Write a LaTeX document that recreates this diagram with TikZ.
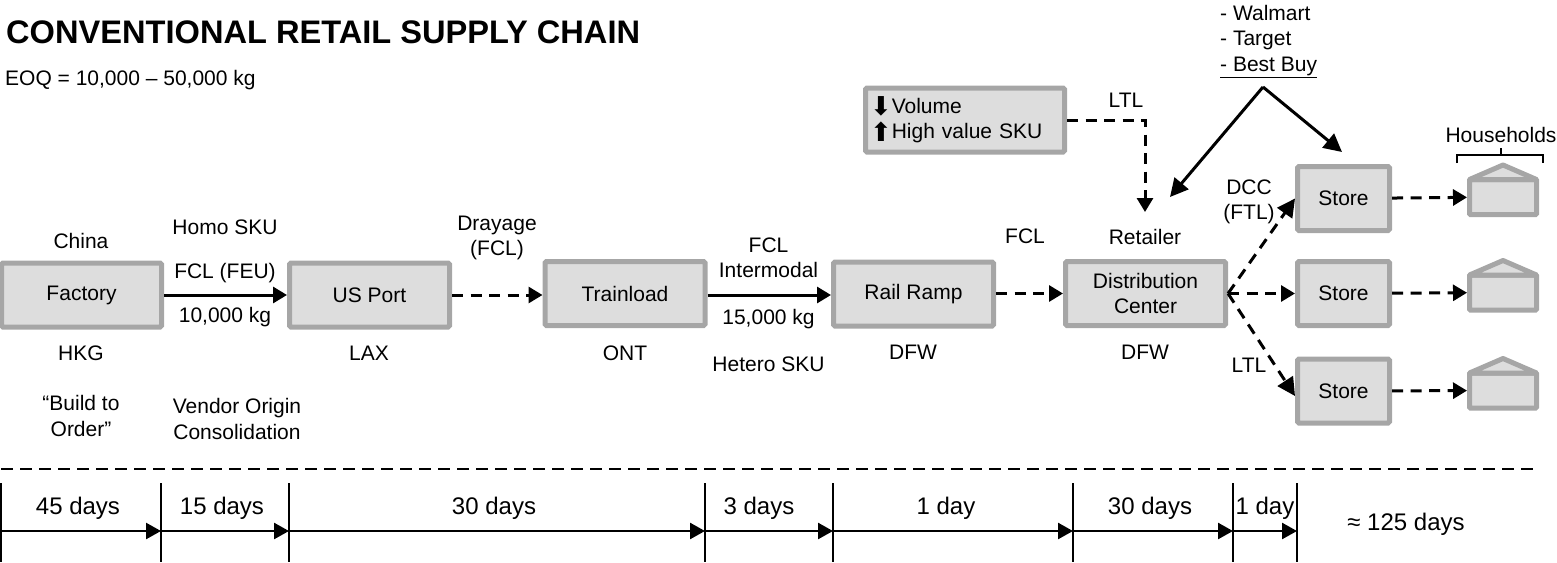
\documentclass[tikz,border=0pt]{standalone}
\usepackage{fontspec}
\setmainfont{Liberation Sans}
\newfontfamily\symfont{DejaVu Sans}
\usetikzlibrary{arrows.meta}
\definecolor{boxfill}{HTML}{DDDDDD}
\definecolor{boxline}{HTML}{A6A6A6}
\newcommand{\updown}[1]{\raisebox{-2.5pt}{\symfont\fontsize{26}{25.5}\selectfont #1}}
\tikzset{
  txt/.style={inner sep=0pt,align=center,font=\fontsize{21}{25.5}\selectfont},
  daytxt/.style={inner sep=0pt,align=center,font=\fontsize{24}{28}\selectfont},
  procbox/.style={txt,draw=boxline,fill=boxfill,line width=5pt,rounded corners=1.5pt,minimum width=160pt,minimum height=64pt},
  storebox/.style={procbox,minimum width=92pt},
  housebody/.style={draw=boxline,fill=boxfill,line width=5pt,rounded corners=1pt,inner sep=0pt,minimum width=67pt,minimum height=35pt},
  flow/.style={line width=3pt,-{Triangle[length=14pt,width=16pt]}},
  dashflow/.style={flow,dash pattern=on 11pt off 7.5pt},
  bigflow/.style={line width=3pt,-{Triangle[length=18pt,width=18pt]}},
  bigdash/.style={bigflow,dash pattern=on 11pt off 7.5pt},
  dayflow/.style={line width=2.5pt,-{Triangle[length=15pt,width=16pt]}},
}
\begin{document}
\begin{tikzpicture}[x=1pt,y=-1pt]
  \useasboundingbox (0,0) rectangle (1557,562);

  \node[anchor=west,inner sep=0pt,font=\fontsize{32.6}{38}\selectfont\bfseries] (Title) at (6,32) {CONVENTIONAL RETAIL SUPPLY CHAIN};
  \node[txt,anchor=west] (EOQ) at (5,80) {EOQ = 10,000 -- 50,000 kg};

  % main chain
  \node[procbox] (Fac) at (81.5,295) {Factory};
  \node[procbox] (Port) at (369.5,295) {US Port};
  \node[procbox] (Train) at (625,293.5) {Trainload};
  \node[procbox] (Ramp) at (913.5,294) {Rail Ramp};
  \node[procbox] (DC) at (1145.5,293.5) {Distribution\\Center};
  \node[storebox] (St1) at (1343.5,198.5) {Store};
  \node[storebox] (St2) at (1343.5,293.5) {Store};
  \node[storebox] (St3) at (1343.5,391) {Store};
  \node[procbox,minimum width=199pt,text width=190pt,align=left] (Vol) at (965,120) {\updown{⬇}Volume\\\updown{⬆}High value SKU};

  % households
  \foreach \h/\y in {H1/197,H2/292.5,H3/390.5}{
    \node[housebody] (\h) at (1503,\y) {};
    \draw[boxline,fill=boxfill,line width=5pt,line join=round] (\h.north west) ++(2.5,2.5) -- ++(33.5,-14.5) -- ++(33.5,14.5) -- cycle;
  }

  % labels
  \node[txt] (China) at (81,241) {China};
  \node[txt] (HKG) at (81,353) {HKG};
  \node[txt] (Build) at (81,416) {“Build to\\Order”};
  \node[txt] (Homo) at (225,227) {Homo SKU};
  \node[txt] (FEU) at (225,273) {FCL (FEU)};
  \node[txt] (Kg1) at (225,317) {10,000 kg};
  \node[txt] (Vendor) at (237,419) {Vendor Origin\\Consolidation};
  \node[txt] (LAX) at (369,353) {LAX};
  \node[txt] (Dray) at (497,238) {Drayage\\(FCL)};
  \node[txt] (ONT) at (625,353) {ONT};
  \node[txt] (Inter) at (768.5,258) {FCL\\Intermodal};
  \node[txt] (Kg2) at (768.5,319) {15,000 kg};
  \node[txt] (Hetero) at (768.5,364) {Hetero SKU};
  \node[txt] (DFW1) at (913,352) {DFW};
  \node[txt] (FCL) at (1025,236) {FCL};
  \node[txt] (Ret) at (1145,237) {Retailer};
  \node[txt] (DFW2) at (1145,352) {DFW};
  \node[txt] (LTL1) at (1126,100) {LTL};
  \node[txt] (DCC) at (1249,202) {DCC\\(FTL)};
  \node[txt] (LTL2) at (1249,365) {LTL};
  \node[txt,align=left,anchor=north west] (Chains) at (1220,5) {- Walmart\\- Target\\\underline{- Best Buy}};
  \node[txt] (Homes) at (1501,135) {Households};

  \coordinate (Apex) at (1263,87);
  \coordinate (RetEnd) at (1170,197);
  \coordinate (StEnd) at (1342,152);
  \coordinate (LtlEnd) at (1145,212);

  \draw[flow] (Fac) -- (Port);
  \draw[dashflow] (Port) -- (Port -| Train.west);
  \draw[flow] (Train.east |- Port) -- (Port -| Ramp.west);
  \draw[dashflow] (Ramp.east |- DC) -- (DC);
  \draw[bigdash] (DC.east) -- (St1.west);
  \draw[dashflow] (DC.east) -- (St2.west);
  \draw[bigdash] (DC.east) -- ([yshift=-5pt]St3.west);
  \draw[dashflow] (St1) -- (H1);
  \draw[dashflow] (St2) -- (H2);
  \draw[dashflow] (St3) -- (H3);
  \draw[dashflow] (Vol.east) -| (LtlEnd);
  \draw[bigflow] (Apex) -- (RetEnd);
  \draw[bigflow] (Apex) -- (StEnd);

  % bracket over the houses
  \draw[line width=1.5pt] (1457,163) -- (1457,155) -- (1543,155) -- (1543,163);
  \draw[line width=1.5pt] (1501,155) -- (1501,148);

  % timeline
  \draw[line width=2pt,dash pattern=on 12pt off 7pt] (1,469) -- (1536,469);
  \foreach \t/\x in {T1/1,T2/161,T3/289,T4/705,T5/833,T6/1073,T7/1233,T8/1297}{
    \coordinate (\t) at (\x,531);
    \draw[line width=1.5pt] (\x,483) -- (\x,562);
  }
  \draw[dayflow] (T1) -- (T2);
  \draw[dayflow] (T2) -- (T3);
  \draw[dayflow] (T3) -- (T4);
  \draw[dayflow] (T4) -- (T5);
  \draw[dayflow] (T5) -- (T6);
  \draw[dayflow] (T6) -- (T7);
  \draw[dayflow] (T7) -- (T8);
  \node[daytxt] (D1) at (78,508) {45 days};
  \node[daytxt] (D2) at (222,508) {15 days};
  \node[daytxt] (D3) at (494,508) {30 days};
  \node[daytxt] (D4) at (759,508) {3 days};
  \node[daytxt] (D5) at (946,508) {1 day};
  \node[daytxt] (D6) at (1150,508) {30 days};
  \node[daytxt] (D7) at (1265,508) {1 day};
  \node[daytxt] (Total) at (1406,524) {≈ 125 days};
\end{tikzpicture}
\end{document}
